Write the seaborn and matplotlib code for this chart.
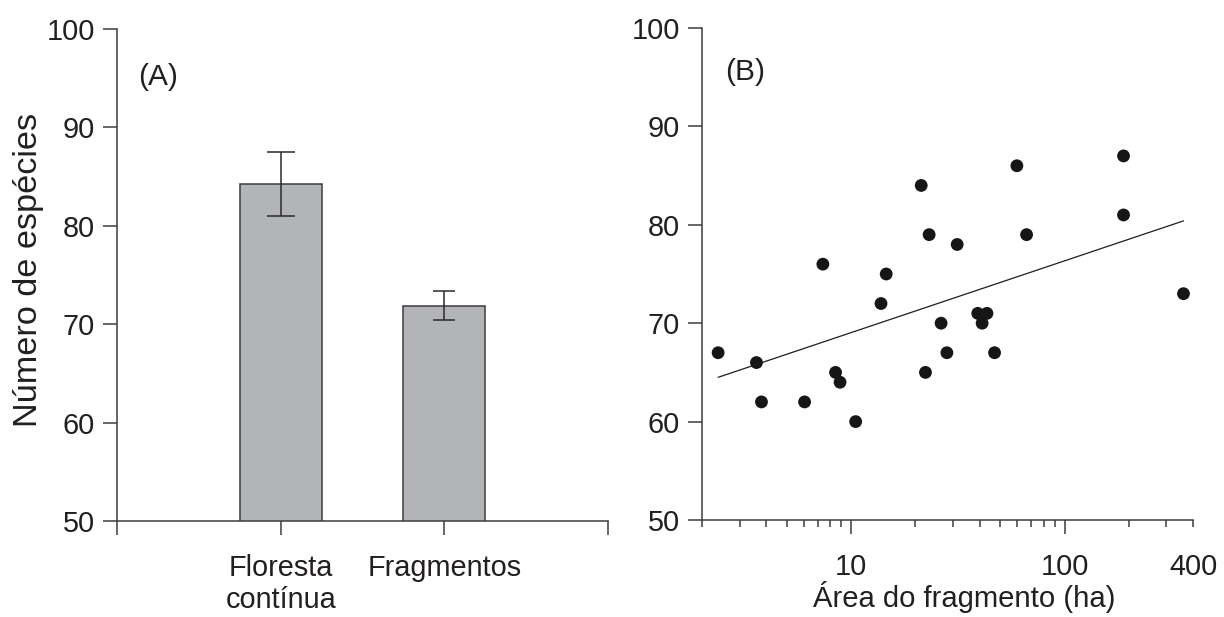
import matplotlib
matplotlib.use("Agg")
import matplotlib.pyplot as plt
import seaborn as sns
import pandas as pd
import numpy as np

# ---- Data ----
categories = ["Floresta\ncontínua", "Fragmentos"]
mean_species = [84.25, 71.9]
err_species = [3.25, 1.5]

area_ha = [2.38, 3.6, 3.8, 6.05, 7.37, 8.45, 8.87, 10.5, 13.8, 14.6,
           21.3, 22.3, 23.2, 26.4, 28.1, 31.4, 39.2, 41.1, 43.3, 47.0,
           59.8, 66.4, 189, 189, 361]
n_species = [67, 66, 62, 62, 76, 65, 64, 60, 72, 75,
             84, 65, 79, 70, 67, 78, 71, 70, 71, 67,
             86, 79, 87, 81, 73]
fit_area = [2.38, 361]
fit_species = [64.5, 80.4]

y_ticks = [50, 60, 70, 80, 90, 100]
x_major = [10, 100]
x_minor = [2, 3, 4, 5, 6, 7, 8, 9, 20, 30, 40, 50, 60, 70, 80, 90, 200, 300, 400]

sns.set_theme(style="ticks")
TXT = "#231f20"
AX = "#3c3c3c"
plt.rcParams["font.family"] = ["Liberation Sans", "DejaVu Sans"]
plt.rcParams.update({
    "axes.edgecolor": AX, "axes.linewidth": 1.1,
    "xtick.color": AX, "ytick.color": AX,
    "xtick.labelcolor": TXT, "ytick.labelcolor": TXT,
    "text.color": TXT, "axes.labelcolor": TXT,
})

fig = plt.figure(figsize=(12.24, 6.17), dpi=100)
axA = fig.add_axes([117/1224, 96/617, 491/1224, 492/617])
axB = fig.add_axes([702/1224, 97/617, 491/1224, 492/617])

TICK_FS = 20.8
XPAD = 13.5

# ---- Panel A ----
dfA = pd.DataFrame({"cat": categories, "mean": mean_species})
sns.barplot(data=dfA, x="cat", y="mean", color="#b3b4b8", edgecolor=AX,
            linewidth=1.1, width=0.5, errorbar=None, saturation=1, ax=axA)
caps = [10.4, 7.9]
for i, (m, e) in enumerate(zip(mean_species, err_species)):
    axA.errorbar([i], [m], yerr=[e], fmt="none", ecolor="#2a2a2a",
                 elinewidth=1.1, capsize=caps[i], capthick=1.1)
axA.set_xlim(-1, 2)
axA.set_ylim(50, 100)
axA.set_xticks([-1, 0, 1, 2])
axA.set_xticklabels(["", categories[0], categories[1], ""])
axA.set_yticks(y_ticks)
axA.set_xlabel("")
axA.set_ylabel("Número de espécies", fontsize=24.7, labelpad=2, y=0.51)
axA.tick_params(axis="both", labelsize=TICK_FS, length=10, width=1.1, pad=6)
axA.tick_params(axis="x", pad=XPAD)
sns.despine(ax=axA)
axA.text(0.043, 0.902, "(A)", transform=axA.transAxes, fontsize=21.5,
         ha="left", va="center")

# ---- Panel B ----
dfB = pd.DataFrame({"area": area_ha, "species": n_species})
sns.scatterplot(data=dfB, x="area", y="species", color="#161616", s=85,
                edgecolor="none", ax=axB)
sns.lineplot(x=fit_area, y=fit_species, color="#1e1e1e", linewidth=0.9, ax=axB)
axB.set_xscale("log")
axB.set_xlim(2, 400)
axB.set_ylim(50, 100)
axB.set_yticks(y_ticks)
axB.set_xticks(x_major)
axB.set_xticklabels(["10", "100"])
axB.set_xticks(x_minor, minor=True)
axB.set_xticklabels([""] * (len(x_minor) - 1) + ["400"], minor=True)
axB.tick_params(axis="both", which="major", labelsize=TICK_FS, length=10, width=1.1, pad=6)
axB.tick_params(axis="x", which="minor", labelsize=TICK_FS, length=5, width=1.1, pad=XPAD + 5)
axB.tick_params(axis="x", which="major", pad=XPAD)
axB.set_ylabel("")
axB.set_xlabel("Área do fragmento (ha)", fontsize=21.1, labelpad=0.5, x=0.535)
sns.despine(ax=axB)
axB.text(0.047, 0.91, "(B)", transform=axB.transAxes, fontsize=21.5,
         ha="left", va="center")

fig.savefig("out.png", dpi=100)
